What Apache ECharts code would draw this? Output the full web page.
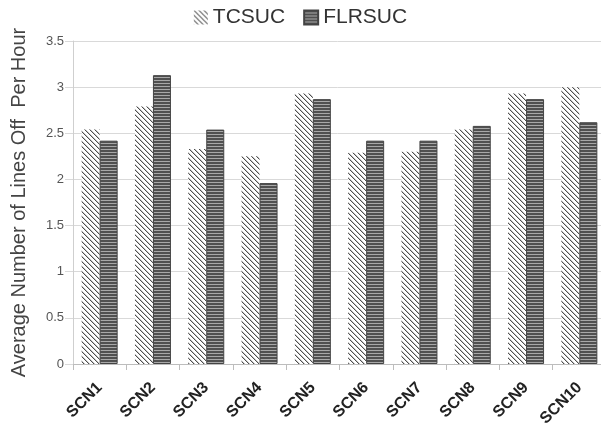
<!DOCTYPE html>
<html>
<head>
<meta charset="utf-8">
<script src="https://cdn.jsdelivr.net/npm/echarts@6/dist/echarts.min.js"></script>
<style>html,body{margin:0;padding:0;background:#fff;}#c{width:601px;height:424px;}</style>
</head>
<body>
<div id="c"></div>
<script>
var categories = ['SCN1','SCN2','SCN3','SCN4','SCN5','SCN6','SCN7','SCN8','SCN9','SCN10'];
var tcsuc = [2.54, 2.79, 2.33, 2.25, 2.93, 2.29, 2.30, 2.54, 2.93, 3.00];
var flrsuc = [2.42, 3.13, 2.54, 1.96, 2.87, 2.42, 2.42, 2.58, 2.87, 2.62];
var seriesNames = ['TCSUC', 'FLRSUC'];

function hatchPattern(){
  var s = 5;
  var c = document.createElement('canvas'); c.width = s; c.height = s;
  var x = c.getContext('2d');
  x.fillStyle = '#ffffff'; x.fillRect(0,0,s,s);
  for (var r = 0; r < s; r++) {
    x.fillStyle = '#4e4e4e'; x.fillRect(r, r, 1, 1);
    x.fillStyle = '#c4c4c4'; x.fillRect((r + 1) % s, r, 1, 1);
  }
  return c;
}
function stripePattern(){
  var c = document.createElement('canvas'); c.width = 3; c.height = 3;
  var x = c.getContext('2d');
  x.fillStyle = '#505050'; x.fillRect(0,0,3,2);
  x.fillStyle = '#a8a8a8'; x.fillRect(0,2,3,1);
  return c;
}

var chart = echarts.init(document.getElementById('c'), null, {renderer: 'canvas'});
chart.setOption({
  animation: false,
  backgroundColor: '#ffffff',
  legend: {
    top: 2, left: 'center', icon: 'rect',
    itemWidth: 14, itemHeight: 14, itemGap: 18,
    textStyle: {fontSize: 21, color: '#333', fontFamily: 'Liberation Sans'},
    data: seriesNames
  },
  grid: {left: 73, right: -5, top: 41, bottom: 60, containLabel: false, outerBoundsMode: 'none'},
  xAxis: {
    type: 'category', data: categories,
    axisLine: {lineStyle: {color: '#bdbdbd'}},
    axisTick: {show: true, length: 6, lineStyle: {color: '#bdbdbd'}},
    axisLabel: {rotate: 45, fontSize: 16, fontWeight: 'bold', color: '#222', margin: 21, fontFamily: 'Liberation Sans', interval: 0}
  },
  yAxis: {
    type: 'value', min: 0, max: 3.5, interval: 0.5,
    name: 'Average Number of Lines Off  Per Hour',
    nameLocation: 'middle', nameGap: 44,
    nameTextStyle: {fontSize: 20, color: '#444', fontFamily: 'Liberation Sans'},
    axisLine: {show: true, lineStyle: {color: '#cfcfcf'}},
    axisTick: {show: true, length: 8, lineStyle: {color: '#d9d9d9'}},
    axisLabel: {fontSize: 13, color: '#555', margin: 9, fontFamily: 'Liberation Sans'},
    splitLine: {lineStyle: {color: '#d9d9d9', width: 1}}
  },
  series: [
    {name: seriesNames[0], type: 'bar', data: tcsuc, barWidth: 18, barGap: '0%',
     itemStyle: {color: {image: hatchPattern(), repeat: 'repeat'}}},
    {name: seriesNames[1], type: 'bar', data: flrsuc, barWidth: 18, barGap: '0%',
     itemStyle: {color: {image: stripePattern(), repeat: 'repeat'}, borderColor: '#444', borderWidth: 1}}
  ]
});
</script>
</body>
</html>
